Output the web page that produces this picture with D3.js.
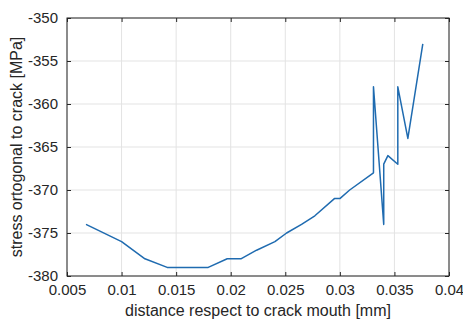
<!DOCTYPE html>
<html>
<head>
<meta charset="utf-8">
<script src="https://cdn.jsdelivr.net/npm/d3@7"></script>
<style>
  body { margin: 0; background: #fff; }
  svg { font-family: "Liberation Sans", Arial, sans-serif; }
</style>
</head>
<body>
<svg width="463" height="320"></svg>
<script>
// distance respect to crack mouth [mm]
const distance = [0.00674, 0.0100, 0.01214, 0.01418, 0.01794, 0.01968, 0.02093, 0.02237,
  0.02405, 0.02512, 0.02649, 0.02771, 0.02950, 0.03000, 0.03090, 0.03308,
  0.03308, 0.03402, 0.03402, 0.03440, 0.03531, 0.03531, 0.03623, 0.03760];
// stress ortogonal to crack [MPa]
const stress = [-374, -376, -378, -379, -379, -378, -378, -377,
  -376, -375, -374, -373, -371, -371, -370, -368,
  -358, -374, -367, -366, -367, -358, -364, -353];
const xTicks = [0.005, 0.01, 0.015, 0.02, 0.025, 0.03, 0.035, 0.04];
const yTicks = [-380, -375, -370, -365, -360, -355, -350];

const svg = d3.select('svg');
const plotL = 67, plotR = 449, plotT = 18, plotB = 276;

const x = d3.scaleLinear().domain([0.005, 0.04]).range([plotL, plotR]);
const y = d3.scaleLinear().domain([-380, -350]).range([plotB, plotT]);

// grid
svg.append('g')
  .selectAll('line')
  .data(xTicks)
  .enter()
  .append('line')
  .attr('x1', d => x(d)).attr('x2', d => x(d))
  .attr('y1', plotT).attr('y2', plotB)
  .attr('stroke', '#e3e3e3');

svg.append('g')
  .selectAll('line')
  .data(yTicks)
  .enter()
  .append('line')
  .attr('x1', plotL).attr('x2', plotR)
  .attr('y1', d => y(d)).attr('y2', d => y(d))
  .attr('stroke', '#e3e3e3');

// axes, ticks inward like matlab
const axisStyle = g => {
  g.select('.domain').remove();
  g.selectAll('.tick line').attr('stroke', '#262626');
  g.selectAll('.tick text').attr('fill', '#262626').style('font-size', '15px');
};

svg.append('g')
  .attr('transform', `translate(0,${plotB})`)
  .call(d3.axisBottom(x).tickValues(xTicks).tickFormat(d => +d.toFixed(3) + '')
    .tickSizeInner(-4).tickSizeOuter(0).tickPadding(8))
  .call(axisStyle);

svg.append('g')
  .attr('transform', `translate(${plotL},0)`)
  .call(d3.axisLeft(y).tickValues(yTicks).tickFormat(d => d)
    .tickSizeInner(-4).tickSizeOuter(0).tickPadding(9))
  .call(axisStyle);

svg.append('g')
  .attr('transform', `translate(0,${plotT})`)
  .call(d3.axisTop(x).tickValues(xTicks).tickFormat('')
    .tickSizeInner(-4).tickSizeOuter(0))
  .call(axisStyle);

svg.append('g')
  .attr('transform', `translate(${plotR},0)`)
  .call(d3.axisRight(y).tickValues(yTicks).tickFormat('')
    .tickSizeInner(-4).tickSizeOuter(0))
  .call(axisStyle);

// box
svg.append('rect')
  .attr('x', plotL).attr('y', plotT)
  .attr('width', plotR - plotL).attr('height', plotB - plotT)
  .attr('fill', 'none')
  .attr('stroke', '#262626')
  .attr('stroke-width', 1);

// line
const line = d3.line()
  .x((d, i) => x(distance[i]))
  .y(d => y(d));

svg.append('path')
  .datum(stress)
  .attr('d', line)
  .attr('fill', 'none')
  .attr('stroke', '#1f6bb0')
  .attr('stroke-width', 1.5)
  .attr('stroke-linejoin', 'round');

// labels
svg.append('text')
  .attr('x', (plotL + plotR) / 2)
  .attr('y', 316)
  .attr('text-anchor', 'middle')
  .attr('fill', '#262626')
  .style('font-size', '16px')
  .text('distance respect to crack mouth [mm]');

svg.append('text')
  .attr('transform', `translate(22,${(plotT + plotB) / 2}) rotate(-90)`)
  .attr('text-anchor', 'middle')
  .attr('fill', '#262626')
  .style('font-size', '16px')
  .text('stress ortogonal to crack [MPa]');
</script>
</body>
</html>
